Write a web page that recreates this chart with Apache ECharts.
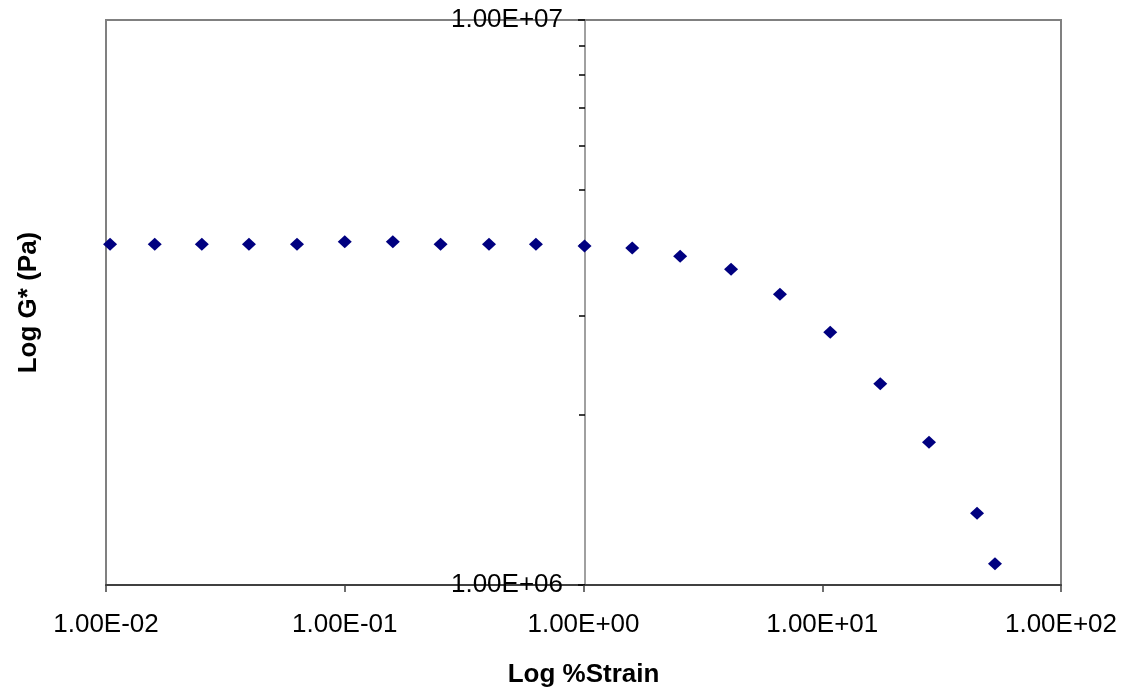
<!DOCTYPE html>
<html>
<head>
<meta charset="utf-8">
<script src="https://cdn.jsdelivr.net/npm/echarts@6/dist/echarts.min.js"></script>
<style>
  html, body { margin: 0; padding: 0; background: #fff; }
  #chart { width: 1127px; height: 690px; }
</style>
</head>
<body>
<div id="chart"></div>
<script>
// % strain (x) and complex modulus G* in Pa (y)
const strain = [0.0104, 0.0160, 0.0252, 0.0397, 0.0631, 0.100, 0.159, 0.252, 0.402, 0.632,
                1.01, 1.60, 2.54, 4.15, 6.65, 10.8, 17.5, 28.0, 44.5, 52.9];
const gStar = [4.01e6, 4.01e6, 4.01e6, 4.01e6, 4.01e6, 4.05e6, 4.05e6, 4.01e6, 4.01e6, 4.01e6,
               3.98e6, 3.95e6, 3.82e6, 3.62e6, 3.27e6, 2.80e6, 2.27e6, 1.79e6, 1.34e6, 1.09e6];

const xRange = [0.01, 100];
const yRange = [1e6, 1e7];

const sci = v => {
    let e = Math.round(Math.log10(v));
    let m = v / Math.pow(10, e);
    return m.toFixed(2) + 'E' + (e < 0 ? '-' : '+') + String(Math.abs(e)).padStart(2, '0');
};

let chartDom = document.getElementById('chart');
let myChart = echarts.init(chartDom);
let option;

const font = '"Liberation Sans", Arial, sans-serif';

option = {
    animation: false,
    grid: {
        left: 106,
        right: 66,
        top: 20,
        bottom: 105,
        outerBoundsMode: 'none',
        show: true,
        borderColor: '#808080',
        borderWidth: 2
    },
    xAxis: {
        type: 'log',
        logBase: 10,
        min: xRange[0],
        max: xRange[1],
        interval: 1,
        name: 'Log %Strain',
        nameLocation: 'middle',
        nameGap: 77,
        nameTextStyle: { fontFamily: font, fontSize: 26, fontWeight: 'bold', color: '#000' },
        axisLine: { lineStyle: { color: '#404040', width: 2 } },
        axisTick: { show: true, inside: false, length: 7, lineStyle: { color: '#404040', width: 1.5 } },
        axisLabel: { formatter: sci, fontFamily: font, fontSize: 26, color: '#000', margin: 27 },
        splitLine: { show: false }
    },
    yAxis: {
        type: 'log',
        logBase: 10,
        min: yRange[0],
        max: yRange[1],
        position: 'left',
        offset: -479,
        name: 'Log G* (Pa)',
        nameLocation: 'middle',
        nameGap: 543,
        nameRotate: 90,
        nameTextStyle: { fontFamily: font, fontSize: 26, fontWeight: 'bold', color: '#000' },
        axisLine: { show: true, lineStyle: { color: '#808080', width: 1.5 } },
        axisTick: { show: true, inside: false, length: 7, lineStyle: { color: '#000', width: 1.5 } },
        minorTick: { show: true, splitNumber: 9, length: 6, lineStyle: { color: '#000', width: 1.5 } },
        axisLabel: { formatter: sci, fontFamily: font, fontSize: 26, color: '#000', margin: 22 },
        splitLine: { show: false }
    },
    series: [
        {
            type: 'scatter',
            symbol: 'diamond',
            symbolSize: [14, 13],
            itemStyle: { color: '#000080', opacity: 1 },
            data: strain.map((s, i) => [s, gStar[i]])
        }
    ]
};

option && myChart.setOption(option);
</script>
</body>
</html>
